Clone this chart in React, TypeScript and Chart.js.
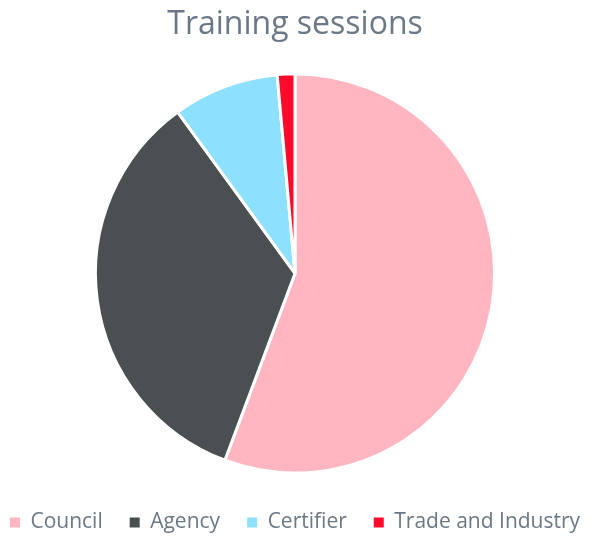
import React, { useEffect, useRef } from "react";
import { Chart, registerables } from "chart.js";

Chart.register(...registerables);

const categories = ["Council", "Agency", "Certifier", "Trade and Industry"];
const sessions = [39, 24, 6, 1];
const colors = ["#FFB6C1", "#4A4F52", "#8EE0FF", "#FF0A2A"];

export default function App() {
  const ref = useRef<HTMLCanvasElement>(null);
  useEffect(() => {
    const chart = new Chart(ref.current!, {
      type: "pie",
      data: {
        labels: categories,
        datasets: [
          {
            data: sessions,
            backgroundColor: colors,
            borderColor: "#ffffff",
            borderWidth: 3,
          },
        ],
      },
      options: {
        animation: false,
        responsive: false,
        maintainAspectRatio: false,
        layout: { padding: { top: 0, bottom: -7, left: -30, right: -30 } },
        plugins: {
          title: {
            display: true,
            text: "Training sessions",
            color: "#6B7885",
            font: { family: "Open Sans", size: 32, weight: "normal" },
            padding: { top: 6, bottom: 28 },
          },
          legend: {
            position: "bottom",
            title: {
              display: true,
              text: " ",
              font: { size: 1 },
              padding: { top: 9.3, bottom: 0 },
            },
            labels: {
              color: "#6B7885",
              font: { family: "Open Sans", size: 21 },
              boxWidth: 10,
              boxHeight: 10,
              padding: 27,
              generateLabels: (c: any) =>
                Chart.overrides.pie.plugins.legend.labels
                  .generateLabels(c)
                  .map((it: any) => ({ ...it, lineWidth: 0, strokeStyle: "rgba(0,0,0,0)" })),
            },
          },
          tooltip: { enabled: false },
        },
      },
    });
    return () => chart.destroy();
  }, []);
  return (
    <div style={{ position: "fixed", left: 0, top: 0, width: 590, height: 536 }}>
      <canvas ref={ref} width={590} height={536} />
    </div>
  );
}
